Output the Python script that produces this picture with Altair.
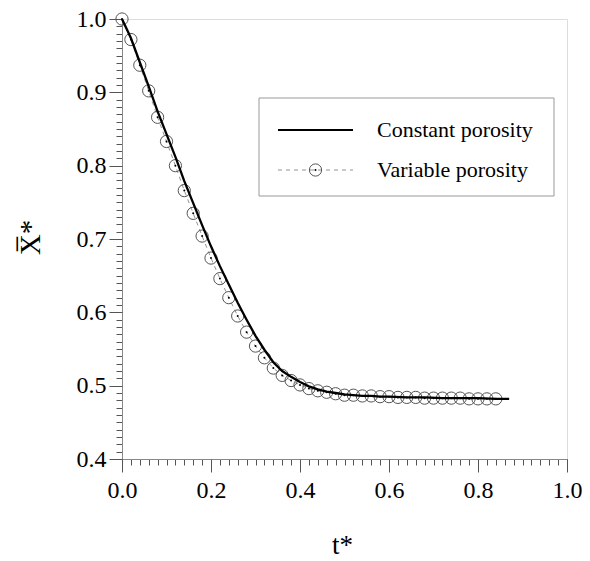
import altair as alt
import pandas as pd

# ---- data ----
t_var = [round(0.02 * i, 2) for i in range(43)]  # 0.00 .. 0.84
x_var = [1.000, 0.972, 0.937, 0.902, 0.866, 0.833, 0.800, 0.766, 0.735, 0.704,
         0.674, 0.646, 0.620, 0.595, 0.573, 0.554, 0.538, 0.524, 0.514, 0.507,
         0.501, 0.496, 0.493, 0.491, 0.489, 0.487, 0.487, 0.486, 0.486, 0.485,
         0.485, 0.484, 0.484, 0.484, 0.483, 0.483, 0.483, 0.483, 0.483, 0.482,
         0.482, 0.482, 0.482]

t_const = [0.00, 0.02, 0.04, 0.06, 0.08, 0.10, 0.12, 0.14, 0.16, 0.18,
           0.20, 0.22, 0.24, 0.26, 0.28, 0.30, 0.32, 0.34, 0.36, 0.38,
           0.40, 0.42, 0.44, 0.46, 0.48, 0.50, 0.52, 0.54, 0.56, 0.58,
           0.60, 0.64, 0.68, 0.72, 0.76, 0.80, 0.84, 0.87]
x_const = [1.000, 0.974, 0.941, 0.908, 0.874, 0.843, 0.812, 0.779, 0.749, 0.719,
           0.690, 0.663, 0.638, 0.613, 0.590, 0.568, 0.549, 0.532, 0.520, 0.512,
           0.505, 0.499, 0.495, 0.492, 0.490, 0.488, 0.487, 0.486, 0.486, 0.485,
           0.485, 0.484, 0.484, 0.483, 0.483, 0.483, 0.482, 0.482]

legend_labels = ["Constant porosity", "Variable porosity"]

x_major = [0.0, 0.2, 0.4, 0.6, 0.8, 1.0]
x_minor = [round(0.02 * i, 2) for i in range(51)]
y_major = [0.4, 0.5, 0.6, 0.7, 0.8, 0.9, 1.0]
y_minor = [round(0.4 + 0.01 * i, 2) for i in range(61)]

FONT = "Liberation Serif"

var_df = pd.DataFrame({"t": t_var, "X": x_var})
const_df = pd.DataFrame({"t": t_const, "X": x_const})
one = pd.DataFrame({"k": [0]})

xscale = alt.Scale(domain=[0, 1], nice=False)
yscale = alt.Scale(domain=[0.4, 1.0], nice=False, zero=False)

minor_x_axis = alt.Axis(orient="bottom", values=x_minor, tickSize=6, labels=False,
                        grid=False, title=None, domainColor="#888",
                        tickColor="#555", tickWidth=1, domainWidth=1)
major_x_axis = alt.Axis(orient="bottom", values=x_major, tickSize=13, format=".1f",
                        grid=False, domain=False, tickColor="#555", tickWidth=1,
                        labelFont=FONT, labelFontSize=24, labelColor="black",
                        labelPadding=6, labelFlush=False, labelOverlap=False,
                        title="t*", titleFont=FONT,
                        titleFontSize=27, titleFontWeight="normal",
                        titleColor="black", titleX=220, titleY=94,
                        titleBaseline="alphabetic")
minor_y_axis = alt.Axis(orient="left", values=y_minor, tickSize=6, labels=False,
                        grid=False, title=None, domainColor="#888",
                        tickColor="#555", tickWidth=1, domainWidth=1)
major_y_axis = alt.Axis(orient="left", values=y_major, tickSize=13, format=".1f",
                        grid=False, domain=False, tickColor="#555", tickWidth=1,
                        labelFont=FONT, labelFontSize=24, labelColor="black",
                        labelPadding=3, labelFlush=False, labelOverlap=False,
                        title="X\u0305*", titleFont=FONT,
                        titleFontSize=29, titleFontWeight="normal",
                        titleColor="black", titleAngle=270, titleX=-92,
                        titleY=218, titleAlign="center", titleBaseline="middle")

dash_line = alt.Chart(var_df).mark_line(
    color="#777", strokeWidth=0.8, strokeDash=[4, 4]
).encode(
    x=alt.X("t:Q", scale=xscale, axis=minor_x_axis),
    y=alt.Y("X:Q", scale=yscale, axis=minor_y_axis),
)

circles = alt.Chart(var_df).mark_point(
    shape="circle", size=150, filled=False, stroke="#555", strokeWidth=1, opacity=1
).encode(
    x=alt.X("t:Q", scale=xscale, axis=None),
    y=alt.Y("X:Q", scale=yscale, axis=None),
)

dots = alt.Chart(var_df).mark_circle(size=4, color="black", opacity=1).encode(
    x=alt.X("t:Q", scale=xscale, axis=None),
    y=alt.Y("X:Q", scale=yscale, axis=None),
)

solid = alt.Chart(const_df).mark_line(color="black", strokeWidth=2.3).encode(
    x=alt.X("t:Q", scale=xscale, axis=major_x_axis),
    y=alt.Y("X:Q", scale=yscale, axis=major_y_axis),
)

# ---- legend box ----
leg_box = alt.Chart(one).mark_rect(fill="white", stroke="#999", strokeWidth=1).encode(
    x=alt.value(137), x2=alt.value(432), y=alt.value(79), y2=alt.value(177)
)
leg_line1 = alt.Chart(one).mark_rule(color="black", strokeWidth=2).encode(
    x=alt.value(156), x2=alt.value(231), y=alt.value(111)
)
leg_line2 = alt.Chart(one).mark_rule(color="#777", strokeWidth=0.8, strokeDash=[4, 4]).encode(
    x=alt.value(156), x2=alt.value(231), y=alt.value(151)
)
leg_circle = alt.Chart(one).mark_point(
    shape="circle", size=150, filled=False, stroke="#555", strokeWidth=1, opacity=1
).encode(x=alt.value(193.5), y=alt.value(151))
leg_dot = alt.Chart(one).mark_circle(size=4, color="black", opacity=1).encode(
    x=alt.value(193.5), y=alt.value(151)
)
leg_text1 = alt.Chart(one).mark_text(
    font=FONT, fontSize=22, align="left", baseline="middle", color="black"
).encode(x=alt.value(255), y=alt.value(111), text=alt.value(legend_labels[0]))
leg_text2 = alt.Chart(one).mark_text(
    font=FONT, fontSize=22, align="left", baseline="middle", color="black"
).encode(x=alt.value(255), y=alt.value(151), text=alt.value(legend_labels[1]))

chart = alt.layer(
    dash_line, circles, dots, solid,
    leg_box, leg_line1, leg_line2, leg_circle, leg_dot, leg_text1, leg_text2
).resolve_axis(
    x="independent", y="independent"
).properties(
    width=445, height=440,
    autosize=alt.AutoSizeParams(type="none"),
    padding={"left": 122, "top": 19, "right": 23, "bottom": 102},
).configure_view(stroke=None).configure(background="white")

chart.save("out.html", embed_options={"renderer": "svg", "actions": False})
